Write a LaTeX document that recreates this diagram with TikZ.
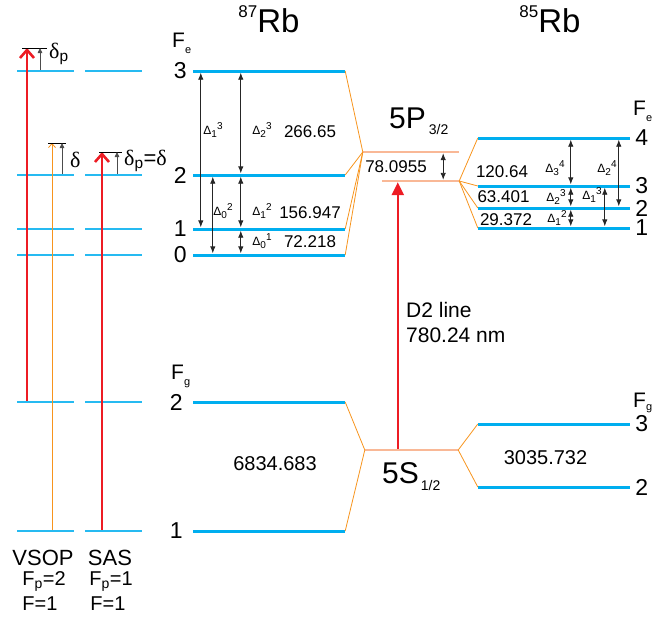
\documentclass[tikz,border=0pt]{standalone}
\usepackage{fontspec}
\setmainfont{Liberation Sans}
\newfontfamily\grkfont{Liberation Serif}
\usetikzlibrary{arrows.meta,positioning}
\definecolor{levelblue}{RGB}{0,174,239}
\definecolor{fanorange}{RGB}{247,148,29}
\definecolor{finepeach}{RGB}{249,184,150}
\definecolor{pumpred}{RGB}{237,28,36}
\newcommand{\fs}[1]{\fontsize{#1}{#1}\selectfont}
\newcommand{\isot}[2]{\raisebox{15pt}{\fs{17}#1}#2}
\newcommand{\hfs}[2]{Δ\raisebox{-3pt}{\fs{10}#1}\raisebox{5.5pt}{\fs{10}#2}}

\begin{document}
\begin{tikzpicture}[x=1pt,y=-1pt,>=Latex,
  lvl/.style={fill=levelblue,inner sep=0pt,minimum height=3pt,minimum width=152pt},
  collvl/.style={fill=levelblue!85,inner sep=0pt,minimum height=2pt,minimum width=57pt},
  finelvl/.style={fill=finepeach,inner sep=0pt,minimum height=2pt},
  fan/.style={draw=fanorange,line width=0.8pt},
  levnum/.style={font=\fs{23},inner sep=0pt},
  hfsnum/.style={font=\fs{17},inner sep=0pt},
  hfslab/.style={font=\fs{12},inner sep=0pt},
  dim/.style={draw=black!85,line width=0.9pt,{Latex[length=7pt,width=5.5pt]}-{Latex[length=7pt,width=5.5pt]}},
  pump/.style={draw=pumpred,line width=2.6pt,-{Straight Barb[length=8pt,width=14pt]}},
  probe/.style={draw=fanorange,line width=0.8pt,-{Straight Barb[length=4pt,width=7pt]}},
  dtwo/.style={draw=pumpred,line width=2.6pt,-{Triangle[length=13pt,width=12pt]}},
  detune/.style={draw=black!70,line width=0.8pt,-{Triangle[length=5pt,width=4.5pt]}},
  tick/.style={draw=black,line width=0.6pt},
  dlab/.style={anchor=west,font=\fs{22},inner sep=0pt},
  botlab/.style={anchor=base,font=\fs{20},inner sep=0pt}]
\useasboundingbox (0,0) rectangle (654,621);

\node[lvl] (e3) at (269,71) {};
\node[lvl] (e2) at (269,175) {};
\node[lvl] (e1) at (269,229) {};
\node[lvl] (e0) at (269,255) {};
\node[lvl] (g2) at (269,402) {};
\node[lvl] (g1) at (269,531) {};
\node[lvl] (h4) at (554,138) {};
\node[lvl] (h3) at (554,186) {};
\node[lvl] (h2) at (554,208) {};
\node[lvl] (h1) at (554,228) {};
\node[lvl] (k3) at (554,424) {};
\node[lvl] (k2) at (554,487) {};
\node[finelvl,minimum width=96pt] (pu) at (411,152) {};
\node[finelvl,minimum width=77pt] (pl) at (420.5,181) {};
\node[finelvl,minimum width=93pt] (s) at (411.5,450) {};

\node[collvl] (vc3) at (45.5,71) {};
\node[collvl] (vc2) at (45.5,175) {};
\node[collvl] (vc1) at (45.5,229) {};
\node[collvl] (vc0) at (45.5,255) {};
\node[collvl] (vcg2) at (45.5,402) {};
\node[collvl] (vcg1) at (45.5,531) {};
\node[collvl] (sc3) at (113.5,71) {};
\node[collvl] (sc2) at (113.5,175) {};
\node[collvl] (sc1) at (113.5,229) {};
\node[collvl] (sc0) at (113.5,255) {};
\node[collvl] (scg2) at (113.5,402) {};
\node[collvl] (scg1) at (113.5,531) {};

\draw[fan] (e3.east) -- (pu.west);
\draw[fan] (e2.east) -- (pu.west);
\draw[fan] (e1.east) -- (pu.west);
\draw[fan] (e0.east) -- (pu.west);
\draw[fan] (pl.east) -- (h4.west);
\draw[fan] (pl.east) -- (h3.west);
\draw[fan] (pl.east) -- (h2.west);
\draw[fan] (pl.east) -- (h1.west);
\draw[fan] (g2.east) -- (s.west);
\draw[fan] (g1.east) -- (s.west);
\draw[fan] (s.east) -- (k3.west);
\draw[fan] (s.east) -- (k2.west);

\node[levnum,left=6pt of e3] (n3) {3};
\node[levnum,left=6pt of e2] (n2) {2};
\node[levnum,left=6pt of e1] (n1) {1};
\node[levnum,left=6pt of e0] (n0) {0};
\node[levnum,left=10pt of g2] (ng2) {2};
\node[levnum,left=10pt of g1] (ng1) {1};
\node[levnum,right=5pt of h4] (m4) {4};
\node[levnum,right=5pt of h3] (m3) {3};
\node[levnum,right=5pt of h2] (m2) {2};
\node[levnum,right=5pt of h1] (m1) {1};
\node[levnum,right=5pt of k3] (mg3) {3};
\node[levnum,right=5pt of k2] (mg2) {2};

\node[anchor=base,font=\fs{33}] (t87) at (269,32) {\isot{87}{Rb}};
\node[anchor=base,font=\fs{33}] (t85) at (550,32) {\isot{85}{Rb}};
\node[anchor=base west,font=\fs{21},inner sep=0pt] (fe87) at (172,47) {F\raisebox{-6pt}{\fs{11}e}};
\node[anchor=base west,font=\fs{21},inner sep=0pt] (fg87) at (171,379) {F\raisebox{-6pt}{\fs{11}g}};
\node[anchor=base west,font=\fs{21},inner sep=0pt] (fe85) at (633,115) {F\raisebox{-6pt}{\fs{11}e}};
\node[anchor=base west,font=\fs{21},inner sep=0pt] (fg85) at (633,407) {F\raisebox{-3pt}{\fs{11}g}};
\node[anchor=base west,font=\fs{30},inner sep=0pt] (p5) at (389,128) {5P\kern3pt\raisebox{-6pt}{\fs{14}3/2}};
\node[anchor=base west,font=\fs{30},inner sep=0pt] (s5) at (382,483) {5S\kern2pt\raisebox{-7pt}{\fs{14}1/2}};

\draw[dim] ([xshift=8pt]e3.south west) -- ([xshift=8pt]e1.north west);
\draw[dim] ([xshift=48pt]e3.south west) -- ([xshift=48pt]e2.north west);
\draw[dim] ([xshift=48pt]e2.south west) -- ([xshift=48pt]e1.north west);
\draw[dim] ([xshift=48pt]e1.south west) -- ([xshift=48pt]e0.north west);
\draw[dim] ([xshift=20pt]e2.south west) -- ([xshift=20pt]e0.north west);
\draw[dim] ([xshift=93pt]h4.south west) -- ([xshift=93pt]h3.north west);
\draw[dim] ([xshift=93pt]h3.south west) -- ([xshift=93pt]h2.north west);
\draw[dim] ([xshift=93pt]h2.south west) -- ([xshift=93pt]h1.north west);
\draw[dim] ([xshift=141pt]h4.south west) -- ([xshift=141pt]h2.north west);
\draw[dim] ([xshift=127pt]h3.south west) -- ([xshift=127pt]h1.north west);
\draw[dim] ([xshift=-16pt]pu.south east) -- ([xshift=-16pt]pl.north east);

\node[hfslab] (d13) at (213,130) {\hfs{1}{3}};
\node[hfslab] (d23) at (262,130) {\hfs{2}{3}};
\node[hfslab] (d02) at (223,211) {\hfs{0}{2}};
\node[hfslab] (d12) at (262,211) {\hfs{1}{2}};
\node[hfslab] (d01) at (262,241) {\hfs{0}{1}};
\node[hfslab] (c34) at (555,168) {\hfs{3}{4}};
\node[hfslab] (c24) at (607,168) {\hfs{2}{4}};
\node[hfslab] (c23) at (556,197) {\hfs{2}{3}};
\node[hfslab] (c13) at (592,195) {\hfs{1}{3}};
\node[hfslab] (c12) at (557,218) {\hfs{1}{2}};

\node[hfsnum] (w32) at (310,132) {266.65};
\node[hfsnum] (w21) at (310,213) {156.947};
\node[hfsnum] (w10) at (310,242) {72.218};
\node[hfsnum] (wp) at (396,167) {78.0955};
\node[hfsnum] (v43) at (502,171.5) {120.64};
\node[hfsnum] (v32) at (503.5,197) {63.401};
\node[hfsnum] (v21) at (506,219.5) {29.372};
\node[hfsnum,font=\fs{20}] (wg) at (275,464) {6834.683};
\node[hfsnum,font=\fs{20}] (vg) at (545.5,458) {3035.732};

\draw[dtwo] ([xshift=33pt]s.north west) -- ([xshift=16pt]pl.south west);
\node[anchor=north west,align=left,font=\fontsize{21}{25}\selectfont,inner sep=0pt] (d2txt) at (406,302) {D2 line\\780.24 nm};

\coordinate (vtip) at (27,48);
\coordinate (otip) at (52,143);
\coordinate (stip) at (102,152);
\coordinate (dpv) at (40,48);
\coordinate (dov) at (62,143);
\coordinate (dps) at (117,152);
\draw[pump] (vcg2.north -| vtip) -- (vtip);
\draw[probe] (vcg1.north -| otip) -- (otip);
\draw[pump] (scg1.north -| stip) -- (stip);
\draw[tick] ([xshift=-5pt]vtip) -- ([xshift=20pt]vtip);
\draw[tick] ([xshift=-4pt]otip) -- ([xshift=14pt]otip);
\draw[tick] ([xshift=-3pt]stip) -- ([xshift=20pt]stip);
\draw[detune] (vc3.north -| dpv) -- (dpv);
\draw[detune] (vc2.north -| dov) -- (dov);
\draw[detune] (sc2.north -| dps) -- (dps);
\node[dlab] (lp) at (49,54) {{\grkfont δ}\textsubscript{p}};
\node[dlab] (lo) at (70,160) {{\grkfont δ}};
\node[dlab] (ls) at (124,161) {{\grkfont δ}\textsubscript{p}={\grkfont δ}};

\node[botlab,font=\fs{22}] (bv1) at (43,565) {VSOP};
\node[botlab] (bv2) at (44,585) {F\textsubscript{p}=2};
\node[botlab] (bv3) at (40,610) {F=1};
\node[botlab,font=\fs{22}] (bs1) at (110,565) {SAS};
\node[botlab] (bs2) at (111,585) {F\textsubscript{p}=1};
\node[botlab] (bs3) at (108,610) {F=1};
\end{tikzpicture}
\end{document}
